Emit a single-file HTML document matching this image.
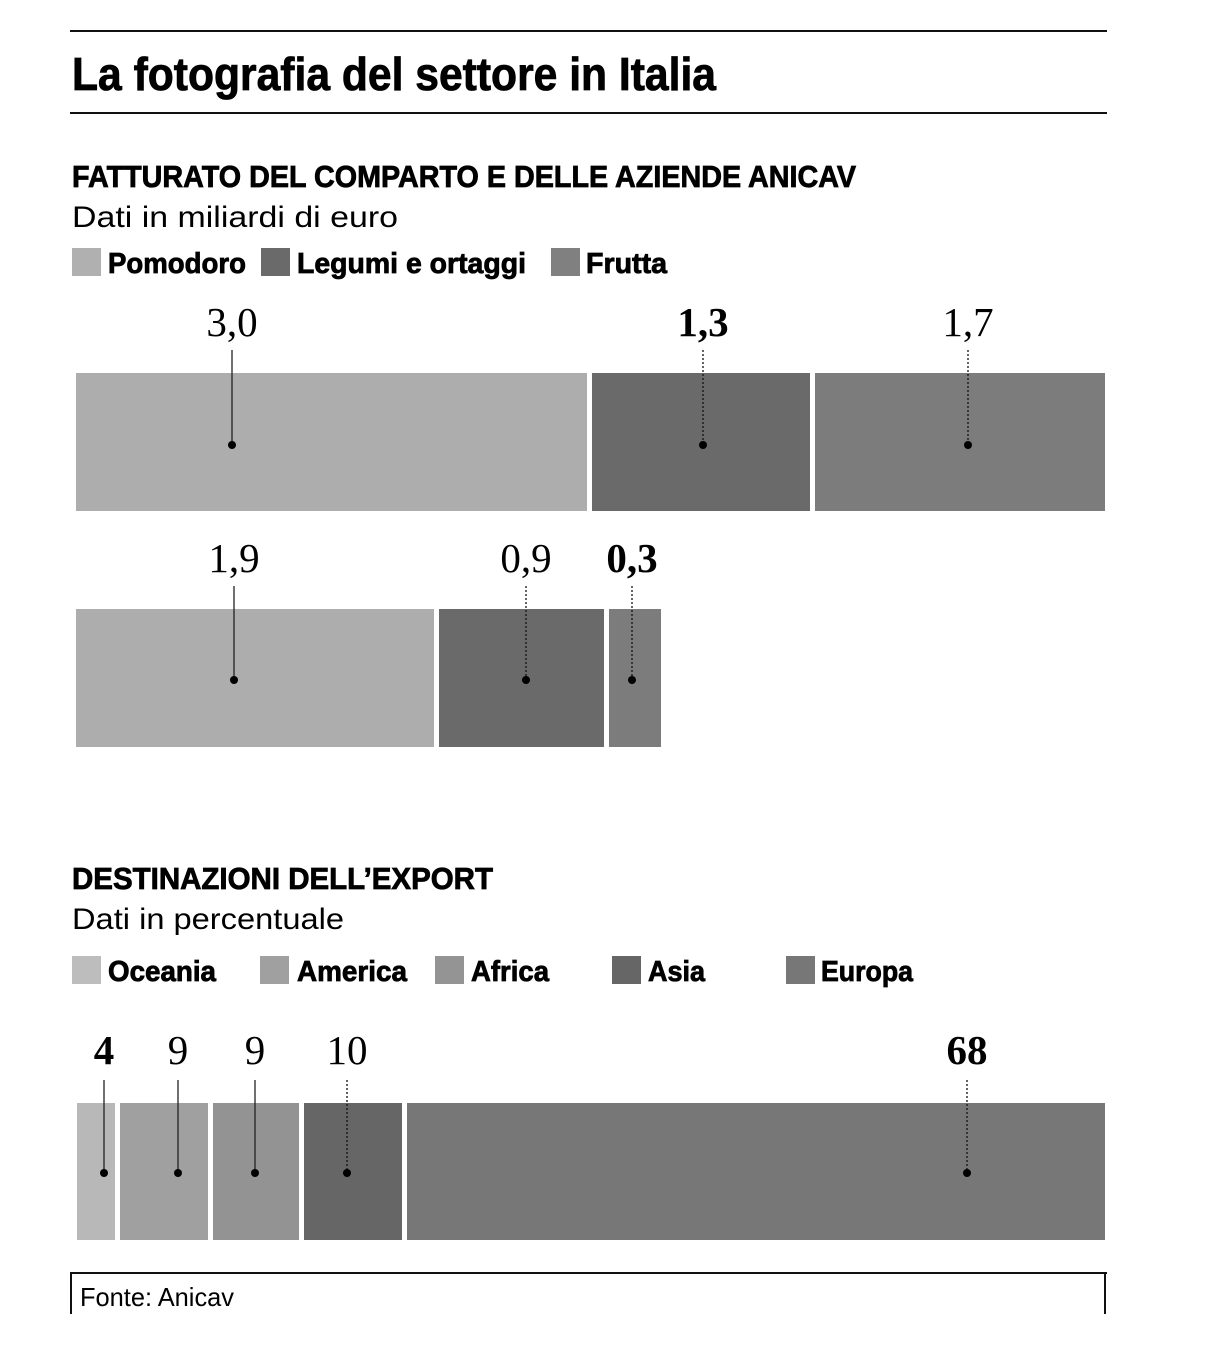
<!DOCTYPE html>
<html><head><meta charset="utf-8"><style>
html,body{margin:0;padding:0;background:#fff;}
svg{display:block;}
.s{font-family:"Liberation Sans Narrow","Liberation Sans",sans-serif;}
.b{stroke:#000;stroke-width:0.8px;}
.n{font-family:"Liberation Serif",serif;font-size:41px;text-anchor:middle;}
</style></head><body>
<svg width="1205" height="1360" viewBox="0 0 1205 1360" xmlns="http://www.w3.org/2000/svg">
<rect width="1205" height="1360" fill="#fff"/>
<rect x="70" y="30" width="1037" height="2" fill="#111"/>
<rect x="70" y="112" width="1037" height="2" fill="#111"/>
<text class="s b" x="72" y="90" font-size="46" font-weight="bold" textLength="644" lengthAdjust="spacingAndGlyphs">La fotografia del settore in Italia</text>

<text class="s b" x="72" y="187" font-size="31" font-weight="bold" textLength="784" lengthAdjust="spacingAndGlyphs">FATTURATO DEL COMPARTO E DELLE AZIENDE ANICAV</text>
<text class="s" x="72" y="227" font-size="30" textLength="326" lengthAdjust="spacingAndGlyphs">Dati in miliardi di euro</text>
<rect x="72" y="248" width="29" height="28" fill="#b0b0b0"/>
<text class="s b" x="108" y="273" font-size="29" font-weight="bold" textLength="138" lengthAdjust="spacingAndGlyphs">Pomodoro</text>
<rect x="261" y="248" width="29" height="28" fill="#6a6a6a"/>
<text class="s b" x="297" y="273" font-size="29" font-weight="bold" textLength="229" lengthAdjust="spacingAndGlyphs">Legumi e ortaggi</text>
<rect x="551" y="248" width="29" height="28" fill="#808080"/>
<text class="s b" x="586" y="273" font-size="29" font-weight="bold" textLength="81" lengthAdjust="spacingAndGlyphs">Frutta</text>

<rect x="76" y="373" width="511" height="138" fill="#adadad"/>
<rect x="592" y="373" width="218" height="138" fill="#6a6a6a"/>
<rect x="815" y="373" width="290" height="138" fill="#7c7c7c"/>
<text class="n" x="232" y="336">3,0</text>
<text class="n" x="703" y="336" font-weight="bold">1,3</text>
<text class="n" x="968" y="336">1,7</text>
<line x1="232" y1="350" x2="232" y2="445" stroke="#222" stroke-width="1.3"/>
<line x1="703" y1="350" x2="703" y2="445" stroke="#111" stroke-width="1.3" stroke-dasharray="2,2"/>
<line x1="968" y1="350" x2="968" y2="445" stroke="#111" stroke-width="1.3" stroke-dasharray="2,2"/>
<circle cx="232" cy="445" r="4" fill="#000"/><circle cx="703" cy="445" r="4" fill="#000"/><circle cx="968" cy="445" r="4" fill="#000"/>

<rect x="76" y="609" width="358" height="138" fill="#adadad"/>
<rect x="439" y="609" width="165" height="138" fill="#6a6a6a"/>
<rect x="609" y="609" width="52" height="138" fill="#7c7c7c"/>
<text class="n" x="234" y="572">1,9</text>
<text class="n" x="526" y="572">0,9</text>
<text class="n" x="632" y="572" font-weight="bold">0,3</text>
<line x1="234" y1="586" x2="234" y2="680" stroke="#222" stroke-width="1.3"/>
<line x1="526" y1="586" x2="526" y2="680" stroke="#111" stroke-width="1.3" stroke-dasharray="2,2"/>
<line x1="632" y1="586" x2="632" y2="680" stroke="#111" stroke-width="1.3" stroke-dasharray="2,2"/>
<circle cx="234" cy="680" r="4" fill="#000"/><circle cx="526" cy="680" r="4" fill="#000"/><circle cx="632" cy="680" r="4" fill="#000"/>

<text class="s b" x="72" y="889" font-size="31" font-weight="bold" textLength="421" lengthAdjust="spacingAndGlyphs">DESTINAZIONI DELL’EXPORT</text>
<text class="s" x="72" y="929" font-size="30" textLength="272" lengthAdjust="spacingAndGlyphs">Dati in percentuale</text>
<rect x="72" y="956" width="29" height="28" fill="#bdbdbd"/>
<text class="s b" x="108" y="981" font-size="29" font-weight="bold" textLength="108" lengthAdjust="spacingAndGlyphs">Oceania</text>
<rect x="260" y="956" width="29" height="28" fill="#a0a0a0"/>
<text class="s b" x="297" y="981" font-size="29" font-weight="bold" textLength="110" lengthAdjust="spacingAndGlyphs">America</text>
<rect x="435" y="956" width="29" height="28" fill="#949494"/>
<text class="s b" x="471" y="981" font-size="29" font-weight="bold" textLength="78" lengthAdjust="spacingAndGlyphs">Africa</text>
<rect x="612" y="956" width="29" height="28" fill="#666"/>
<text class="s b" x="648" y="981" font-size="29" font-weight="bold" textLength="57" lengthAdjust="spacingAndGlyphs">Asia</text>
<rect x="786" y="956" width="29" height="28" fill="#777"/>
<text class="s b" x="821" y="981" font-size="29" font-weight="bold" textLength="92" lengthAdjust="spacingAndGlyphs">Europa</text>

<rect x="77" y="1103" width="38" height="137" fill="#b8b8b8"/>
<rect x="120" y="1103" width="88" height="137" fill="#a0a0a0"/>
<rect x="213" y="1103" width="86" height="137" fill="#939393"/>
<rect x="304" y="1103" width="98" height="137" fill="#666"/>
<rect x="407" y="1103" width="698" height="137" fill="#777"/>
<text class="n" x="104" y="1064" font-weight="bold">4</text>
<text class="n" x="178" y="1064">9</text>
<text class="n" x="255" y="1064">9</text>
<text class="n" x="347" y="1064">10</text>
<text class="n" x="967" y="1064" font-weight="bold">68</text>
<line x1="104" y1="1080" x2="104" y2="1173" stroke="#222" stroke-width="1.3"/>
<line x1="178" y1="1080" x2="178" y2="1173" stroke="#222" stroke-width="1.3"/>
<line x1="255" y1="1080" x2="255" y2="1173" stroke="#222" stroke-width="1.3"/>
<line x1="347" y1="1080" x2="347" y2="1173" stroke="#111" stroke-width="1.3" stroke-dasharray="2,2"/>
<line x1="967" y1="1080" x2="967" y2="1173" stroke="#111" stroke-width="1.3" stroke-dasharray="2,2"/>
<circle cx="104" cy="1173" r="4" fill="#000"/><circle cx="178" cy="1173" r="4" fill="#000"/><circle cx="255" cy="1173" r="4" fill="#000"/><circle cx="347" cy="1173" r="4" fill="#000"/><circle cx="967" cy="1173" r="4" fill="#000"/>

<rect x="70" y="1272" width="1037" height="2" fill="#111"/>
<rect x="70" y="1272" width="2" height="42" fill="#111"/>
<rect x="1104" y="1272" width="2" height="42" fill="#111"/>
<text class="s" x="80" y="1306" font-size="26" textLength="154" lengthAdjust="spacingAndGlyphs">Fonte: Anicav</text>
</svg>
</body></html>
